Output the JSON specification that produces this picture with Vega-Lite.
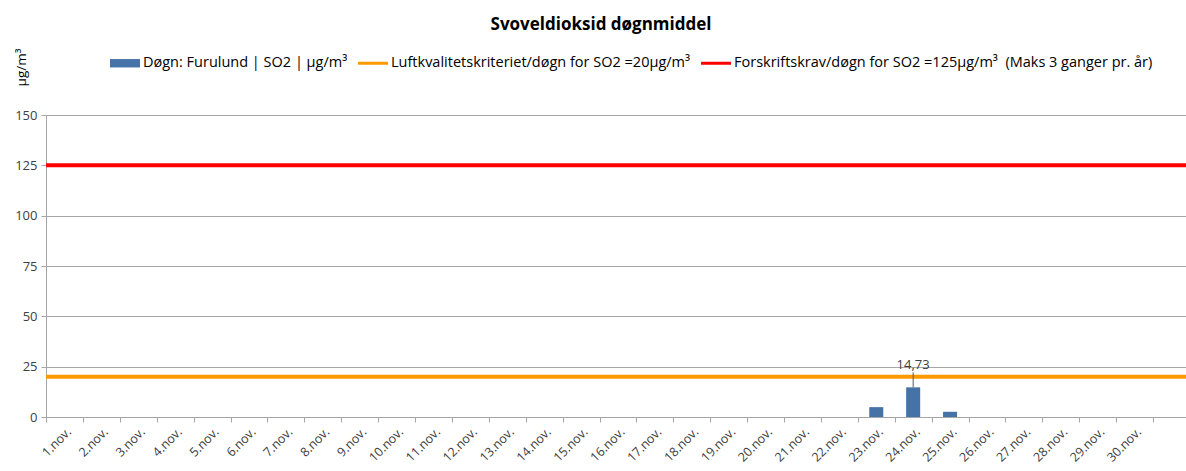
{
  "$schema": "https://vega.github.io/schema/vega-lite/v6.json",
  "autosize": "none",
  "width": 1140,
  "height": 302,
  "padding": {"left": 46, "top": 115, "right": 0, "bottom": 54},
  "background": "white",
  "config": {
    "view": {"stroke": null},
    "font": "Open Sans",
    "locale": {"number": {"decimal": ",", "thousands": " ", "grouping": [3], "currency": ["", " kr"]}}
  },
  "title": {
    "text": "Svoveldioksid døgnmiddel",
    "fontSize": 17,
    "fontWeight": "bold",
    "color": "#000000",
    "anchor": "middle",
    "frame": "bounds",
    "offset": 14
  },
  "datasets": {
    "bars": [
      {"day": "23.nov.", "value": 4.9, "series": "Døgn: Furulund | SO2 | µg/m³"},
      {"day": "24.nov.", "value": 14.73, "series": "Døgn: Furulund | SO2 | µg/m³"},
      {"day": "25.nov.", "value": 2.6, "series": "Døgn: Furulund | SO2 | µg/m³"}
    ],
    "limits": [
      {"value": 20, "series": "Luftkvalitetskriteriet/døgn for SO2 =20µg/m³"},
      {"value": 125, "series": "Forskriftskrav/døgn for SO2 =125µg/m³\u00a0 (Maks 3 ganger pr. år)"}
    ]
  },
  "layer": [
    {
      "data": {"name": "bars"},
      "mark": {"type": "bar", "width": {"band": 0.38}},
      "encoding": {
        "x": {
          "field": "day",
          "type": "ordinal",
          "sort": null,
          "scale": {
            "domain": ["1.nov.","2.nov.","3.nov.","4.nov.","5.nov.","6.nov.","7.nov.","8.nov.","9.nov.","10.nov.","11.nov.","12.nov.","13.nov.","14.nov.","15.nov.","16.nov.","17.nov.","18.nov.","19.nov.","20.nov.","21.nov.","22.nov.","23.nov.","24.nov.","25.nov.","26.nov.","27.nov.","28.nov.","29.nov.","30.nov."],
            "paddingInner": 0,
            "paddingOuter": 0.447,
            "align": 0
          },
          "axis": {
            "title": null,
            "labelAngle": -45,
            "labelFontSize": 12.5,
            "labelColor": "#404040",
            "labelPadding": 3,
            "tickBand": "extent",
            "tickSize": 5,
            "tickColor": "#A6A6A6",
            "domainColor": "#A6A6A6",
            "grid": false
          }
        },
        "y": {
          "field": "value",
          "type": "quantitative",
          "scale": {"domain": [0, 150], "nice": false},
          "axis": {
            "values": [0, 25, 50, 75, 100, 125, 150],
            "grid": true,
            "gridColor": "#A6A6A6",
            "domainColor": "#A6A6A6",
            "tickColor": "#A6A6A6",
            "tickSize": 5,
            "labelFontSize": 13,
            "labelColor": "#404040",
            "labelPadding": 4,
            "title": "µg/m³",
            "titleX": -25,
            "titleY": -48,
            "titleAngle": 270,
            "titleAlign": "center",
            "titleBaseline": "middle",
            "titleFontSize": 13.5,
            "titleFontWeight": "normal",
            "titleColor": "#000000"
          }
        },
        "color": {
          "field": "series",
          "type": "nominal",
          "scale": {
            "domain": ["Døgn: Furulund | SO2 | µg/m³", "Luftkvalitetskriteriet/døgn for SO2 =20µg/m³", "Forskriftskrav/døgn for SO2 =125µg/m³\u00a0 (Maks 3 ganger pr. år)"],
            "range": ["#4572A7", "#FF9900", "#FF0000"]
          },
          "legend": {
            "title": null,
            "orient": "none",
            "legendX": 64,
            "legendY": -67,
            "direction": "horizontal",
            "labelFontSize": 14.5,
            "labelColor": "#000000",
            "labelLimit": 1000,
            "labelOffset": 3,
            "columnPadding": 10,
            "symbolSize": 900,
            "encode": {
              "symbols": {
                "update": {
                  "shape": {"signal": "datum.value === 'Døgn: Furulund | SO2 | µg/m³' ? 'M-1,-0.28H1V0.28H-1Z' : 'M-1,-0.1H1V0.1H-1Z'"},
                  "fill": {"scale": "color", "field": "value"},
                  "strokeWidth": {"value": 0},
                  "size": {"value": 900},
                  "opacity": {"value": 1}
                }
              }
            }
          }
        }
      }
    },
    {
      "data": {"name": "limits"},
      "mark": {"type": "rule", "strokeWidth": 4},
      "encoding": {
        "y": {"field": "value", "type": "quantitative"},
        "color": {"field": "series", "type": "nominal"}
      }
    },
    {
      "data": {"name": "bars"},
      "transform": [{"filter": "datum.value > 10"}],
      "mark": {"type": "rule", "color": "#595959", "strokeWidth": 1, "y2Offset": -15},
      "encoding": {
        "x": {"field": "day", "type": "ordinal"},
        "y": {"field": "value", "type": "quantitative"},
        "y2": {"field": "value"}
      }
    },
    {
      "data": {"name": "bars"},
      "transform": [{"filter": "datum.value > 10"}],
      "mark": {"type": "text", "baseline": "bottom", "dy": -15, "fontSize": 13, "color": "#404040"},
      "encoding": {
        "x": {"field": "day", "type": "ordinal"},
        "y": {"field": "value", "type": "quantitative"},
        "text": {"field": "value", "type": "quantitative", "format": ".2f"}
      }
    }
  ]
}
